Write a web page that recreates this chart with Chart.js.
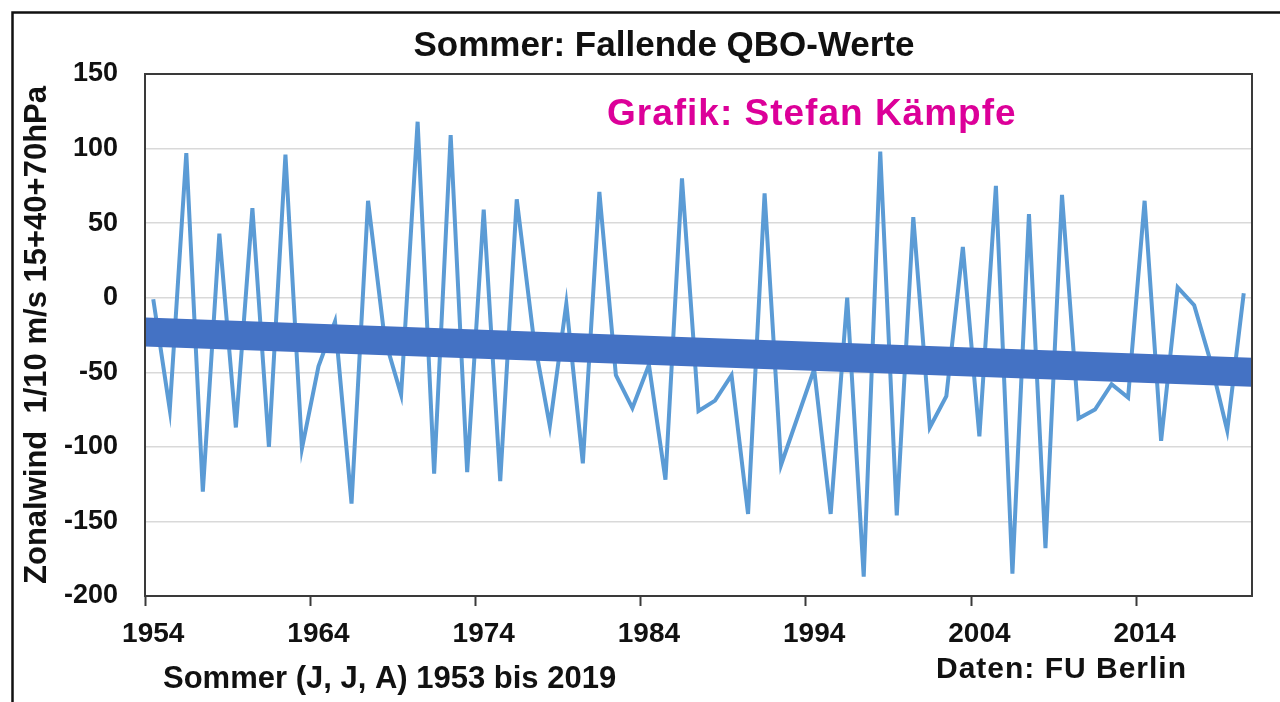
<!DOCTYPE html>
<html>
<head>
<meta charset="utf-8">
<script src="https://cdn.jsdelivr.net/npm/chart.js@4.4.1/dist/chart.umd.min.js"></script>
<style>
  html, body { margin: 0; padding: 0; background: #fff; }
  #chart { display: block; }
</style>
</head>
<body>
<canvas id="chart" width="1280" height="702"></canvas>
<script>
// Summer QBO values (zonal wind, 1/10 m/s, 15+40+70 hPa), one value per summer

const years = [
    '1954', '1955', '1956', '1957', '1958', '1959', '1960', '1961', '1962', '1963',
    '1964', '1965', '1966', '1967', '1968', '1969', '1970', '1971', '1972', '1973',
    '1974', '1975', '1976', '1977', '1978', '1979', '1980', '1981', '1982', '1983',
    '1984', '1985', '1986', '1987', '1988', '1989', '1990', '1991', '1992', '1993',
    '1994', '1995', '1996', '1997', '1998', '1999', '2000', '2001', '2002', '2003',
    '2004', '2005', '2006', '2007', '2008', '2009', '2010', '2011', '2012', '2013',
    '2014', '2015', '2016', '2017', '2018', '2019', '2020'
];

const qboValues = [
    -1, -75, 97, -130, 43, -87, 60, -100, 96, -101,
    -46, -16, -138, 65, -27, -65, 118, -118, 109, -117,
    59, -123, 66, -25, -86, -4, -111, 71, -52, -74,
    -45, -122, 80, -76, -69, -52, -145, 70, -112, -80,
    -48, -145, 0, -187, 98, -146, 54, -87, -66, 34,
    -93, 75, -185, 56, -168, 69, -81, -75, -58, -67,
    65, -96, 7, -5, -43, -89, 3
];

// labelled years on the category axis
const tickYears = ['1954', '1964', '1974', '1984', '1994', '2004', '2014'];

// linear trend, read at the left and right edge of the plot
const trendX = [-0.5, 66.5];
const trendValues = [-23, -50];

const FONT = '"Liberation Sans", Arial, sans-serif';

const decorations = {
    id: 'decorations',
    beforeDraw(chart) {
        const ctx = chart.ctx;
        ctx.save();
        ctx.fillStyle = '#ffffff';
        ctx.fillRect(0, 0, chart.width, chart.height);
        ctx.restore();
    },
    afterDraw(chart) {
        const ctx = chart.ctx;
        const a = chart.chartArea;
        ctx.save();

        // plot frame
        ctx.strokeStyle = '#3a3a3a';
        ctx.lineWidth = 2;
        ctx.strokeRect(a.left, a.top, a.right - a.left, a.bottom - a.top);

        // outer frame (left and top only)
        ctx.strokeStyle = '#111';
        ctx.lineWidth = 2.5;
        ctx.beginPath();
        ctx.moveTo(12.5, chart.height);
        ctx.lineTo(12.5, 12.5);
        ctx.lineTo(chart.width, 12.5);
        ctx.stroke();

        ctx.textBaseline = 'middle';

        // title
        ctx.fillStyle = '#111';
        ctx.textAlign = 'center';
        ctx.font = 'bold 35px ' + FONT;
        ctx.fillText('Sommer: Fallende QBO-Werte', 664, 46);

        // author note
        ctx.textAlign = 'left';
        ctx.fillStyle = '#dc0099';
        ctx.font = 'bold 37px ' + FONT;
        ctx.letterSpacing = '1px';
        ctx.fillText('Grafik: Stefan Kämpfe', 607, 115);

        // x axis caption
        ctx.fillStyle = '#111';
        ctx.letterSpacing = '0px';
        ctx.font = 'bold 31px ' + FONT;
        ctx.fillText('Sommer (J, J, A) 1953 bis 2019', 163, 679);

        // data source
        ctx.font = 'bold 30px ' + FONT;
        ctx.letterSpacing = '1px';
        ctx.fillText('Daten: FU Berlin', 936, 670);

        ctx.restore();
    }
};

new Chart(document.getElementById('chart'), {
    type: 'line',
    data: {
        labels: years,
        datasets: [
            {
                label: 'Trend',
                xAxisID: 'xt',
                data: trendX.map((x, i) => ({ x: x, y: trendValues[i] })),
                borderColor: '#4472c4',
                borderWidth: 29,
                pointRadius: 0,
                order: 0
            },
            {
                label: 'QBO',
                xAxisID: 'x',
                data: qboValues,
                borderColor: '#5b9bd5',
                borderWidth: 4,
                pointRadius: 0,
                tension: 0,
                order: 1
            }
        ]
    },
    options: {
        responsive: false,
        animation: false,
        layout: { padding: { left: 0, top: 74, right: 28, bottom: 0 } },
        plugins: {
            legend: { display: false },
            tooltip: { enabled: false },
            title: { display: false }
        },
        scales: {
            x: {
                type: 'category',
                offset: true,
                border: { color: '#3a3a3a', width: 2 },
                grid: {
                    offset: true,
                    drawOnChartArea: false,
                    drawTicks: true,
                    tickLength: 10,
                    tickWidth: 2,
                    color: (c) => (c.index % 10 === 0 ? '#3a3a3a' : 'transparent'),
                    tickColor: (c) => (c.index % 10 === 0 ? '#3a3a3a' : 'transparent')
                },
                ticks: {
                    autoSkip: false,
                    maxRotation: 0,
                    padding: 11,
                    color: '#111',
                    font: { family: FONT, size: 28, weight: 'bold' },
                    callback: function (value) {
                        const label = this.getLabelForValue(value);
                        return tickYears.includes(label) ? label : '';
                    }
                },
                afterFit: (scale) => { scale.height = 106; }
            },
            xt: {
                type: 'linear',
                display: false,
                min: trendX[0],
                max: trendX[1]
            },
            y: {
                min: -200,
                max: 150,
                border: { color: '#3a3a3a', width: 2 },
                grid: { color: '#d9d9d9', lineWidth: 1.5, drawTicks: false },
                ticks: {
                    stepSize: 50,
                    padding: 27,
                    color: '#111',
                    font: { family: FONT, size: 27, weight: 'bold' }
                },
                title: {
                    display: true,
                    text: 'Zonalwind  1/10 m/s 15+40+70hPa',
                    color: '#111',
                    font: { family: FONT, size: 31, weight: 'bold' },
                    padding: { top: 19, bottom: 0 }
                },
                afterFit: (scale) => { scale.width = 145; }
            }
        }
    },
    plugins: [decorations]
});
</script>
</body>
</html>
